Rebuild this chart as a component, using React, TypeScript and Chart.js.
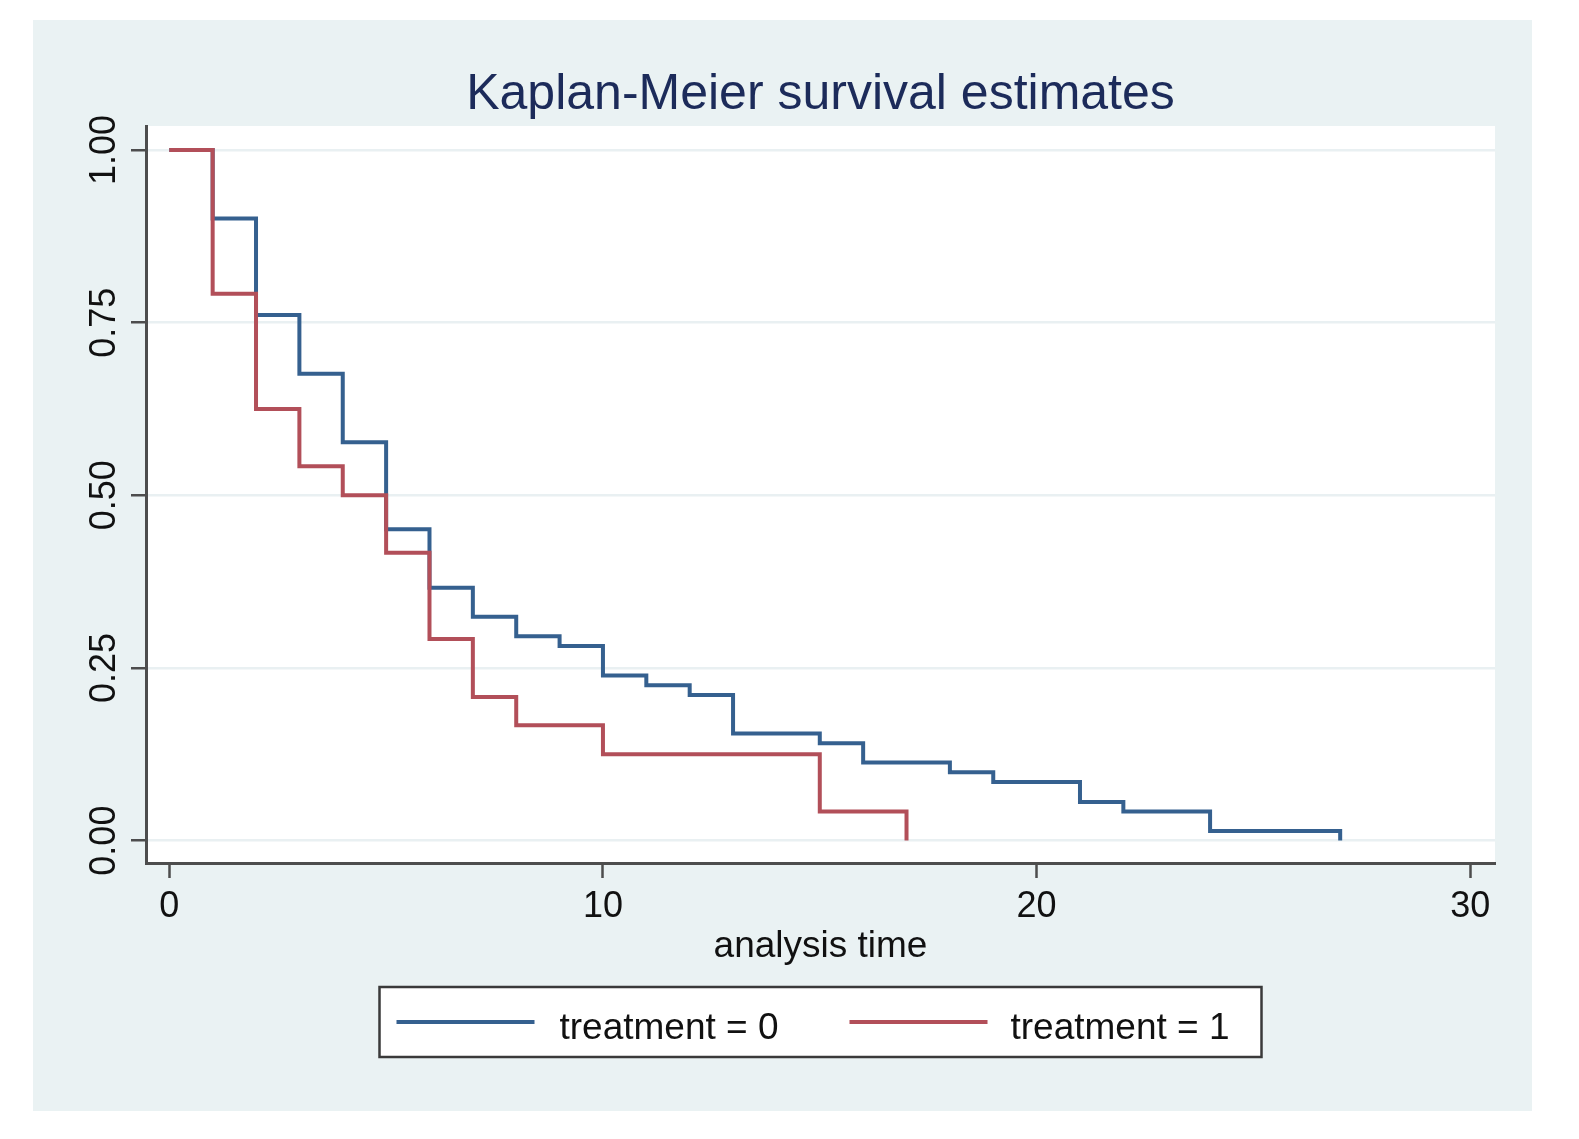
import React, { useEffect, useRef } from 'react';
import { Chart, registerables } from 'chart.js';

Chart.register(...registerables);

// ---- data ----
const chartTitle = 'Kaplan-Meier survival estimates';
const xAxisTitle = 'analysis time';
const xTickValues = [0, 10, 20, 30];
const yTickValues = [0, 0.25, 0.5, 0.75, 1];

const group0Label = 'treatment = 0';
const group0Times = [0, 1, 2, 3, 4, 5, 6, 7, 8, 9, 10, 11, 12, 13, 15, 16, 18, 19, 21, 22, 24, 27];
const group0Survival = [1, 0.901, 0.761, 0.676, 0.577, 0.451, 0.366, 0.324, 0.296, 0.282, 0.239, 0.225, 0.211, 0.155, 0.141, 0.113, 0.099, 0.085, 0.056, 0.042, 0.014, 0];

const group1Label = 'treatment = 1';
const group1Times = [0, 1, 2, 3, 4, 5, 6, 7, 8, 10, 15, 17];
const group1Survival = [1, 0.792, 0.625, 0.542, 0.5, 0.417, 0.292, 0.208, 0.167, 0.125, 0.042, 0];

// ---- styles ----
const FONT = "'Liberation Sans', Arial, Helvetica, sans-serif";
const BLUE = '#35608f';
const RED = '#b24f59';
const PANEL = '#eaf2f3';
const GRID = '#e9f0f2';
const AXIS = '#4d4d4d';
const TEXT = '#111111';
const TITLE_COLOR = '#1c2b5a';

const stataFrame = {
  id: 'stataFrame',
  beforeDraw(chart: any) {
    const { ctx, width, height, chartArea } = chart;
    ctx.save();
    ctx.fillStyle = '#ffffff';
    ctx.fillRect(0, 0, width, height);
    ctx.fillStyle = PANEL;
    ctx.fillRect(33, 20, 1499, 1091);
    ctx.fillStyle = '#ffffff';
    ctx.fillRect(chartArea.left, chartArea.top, chartArea.right - chartArea.left, chartArea.bottom - chartArea.top);
    ctx.restore();
  },
  afterDraw(chart: any) {
    const { ctx, chartArea } = chart;
    const cx = (chartArea.left + chartArea.right) / 2;
    ctx.save();
    // title
    ctx.fillStyle = TITLE_COLOR;
    ctx.font = `50px ${FONT}`;
    ctx.textAlign = 'center';
    ctx.textBaseline = 'alphabetic';
    ctx.fillText(chartTitle, cx, 109);

    // legend box
    const boxW = 882;
    const boxL = cx - boxW / 2;
    const boxT = 987;
    const boxH = 70;
    ctx.fillStyle = '#ffffff';
    ctx.fillRect(boxL, boxT, boxW, boxH);
    ctx.strokeStyle = '#3a3a3a';
    ctx.lineWidth = 2.5;
    ctx.strokeRect(boxL, boxT, boxW, boxH);

    const ds = chart.data.datasets;
    const items = [
      { ds: ds[0], lineX: 17, textX: 180 },
      { ds: ds[1], lineX: 470, textX: 631 },
    ];
    const lineY = boxT + 35;
    items.forEach((it) => {
      ctx.strokeStyle = it.ds.borderColor;
      ctx.lineWidth = 4;
      ctx.beginPath();
      ctx.moveTo(boxL + it.lineX, lineY);
      ctx.lineTo(boxL + it.lineX + 138, lineY);
      ctx.stroke();
      ctx.fillStyle = TEXT;
      ctx.font = `37px ${FONT}`;
      ctx.textAlign = 'left';
      ctx.textBaseline = 'alphabetic';
      ctx.fillText(it.ds.label, boxL + it.textX, boxT + 52);
    });
    ctx.restore();
  },
};

export default function App() {
  const ref = useRef<HTMLCanvasElement>(null);

  useEffect(() => {
    document.body.style.margin = '0';
    const canvas = ref.current;
    if (!canvas) return;
    const chart = new Chart(canvas, {
      type: 'line',
      data: {
        datasets: [
          {
            label: group0Label,
            data: group0Times.map((t, i) => ({ x: t, y: group0Survival[i] })),
            borderColor: BLUE,
            backgroundColor: BLUE,
            borderWidth: 4,
            stepped: 'before',
            pointRadius: 0,
            fill: false,
            borderJoinStyle: 'miter',
            borderCapStyle: 'butt',
            order: 1,
          },
          {
            label: group1Label,
            data: group1Times.map((t, i) => ({ x: t, y: group1Survival[i] })),
            borderColor: RED,
            backgroundColor: RED,
            borderWidth: 4,
            stepped: 'before',
            pointRadius: 0,
            fill: false,
            borderJoinStyle: 'miter',
            borderCapStyle: 'butt',
            order: 0,
          },
        ],
      },
      options: {
        responsive: false,
        animation: false,
        events: [],
        layout: { padding: { left: 0, right: 84, top: 126, bottom: 170 } },
        plugins: {
          legend: { display: false },
          title: { display: false },
          tooltip: { enabled: false },
        },
        scales: {
          x: {
            type: 'linear',
            min: -0.537,
            max: 30.57,
            afterBuildTicks: (s: any) => {
              s.ticks = xTickValues.map((v) => ({ value: v }));
            },
            afterFit: (s: any) => {
              s.height = 106;
            },
            grid: {
              display: true,
              drawOnChartArea: false,
              drawTicks: true,
              tickLength: 15,
              tickColor: AXIS,
              tickWidth: 2.5,
            },
            border: { display: true, color: AXIS, width: 3 },
            ticks: {
              font: { family: FONT, size: 36 },
              color: TEXT,
              padding: 7,
              maxRotation: 0,
              autoSkip: false,
              callback: (v: any) => String(v),
            },
            title: {
              display: true,
              text: xAxisTitle,
              font: { family: FONT, size: 37 },
              color: TEXT,
              padding: { top: 0, bottom: 0 },
            },
          },
          y: {
            type: 'linear',
            min: -0.0324,
            max: 1.0348,
            afterBuildTicks: (s: any) => {
              s.ticks = yTickValues.map((v) => ({ value: v }));
            },
            afterFit: (s: any) => {
              s.width = 146;
            },
            grid: {
              color: GRID,
              lineWidth: 2.5,
              drawTicks: true,
              tickLength: 15,
              tickColor: AXIS,
              tickWidth: 2.5,
            },
            border: { display: true, color: AXIS, width: 3 },
            ticks: {
              font: { family: FONT, size: 36 },
              color: TEXT,
              padding: -9,
              minRotation: 90,
              maxRotation: 90,
              crossAlign: 'center',
              autoSkip: false,
              callback: (v: any) => Number(v).toFixed(2),
            },
          },
        },
      },
      plugins: [stataFrame],
    } as any);
    return () => chart.destroy();
  }, []);

  return (
    <div style={{ width: 1579, height: 1139, background: '#ffffff' }}>
      <canvas ref={ref} width={1579} height={1139} style={{ display: 'block', width: 1579, height: 1139 }} />
    </div>
  );
}
